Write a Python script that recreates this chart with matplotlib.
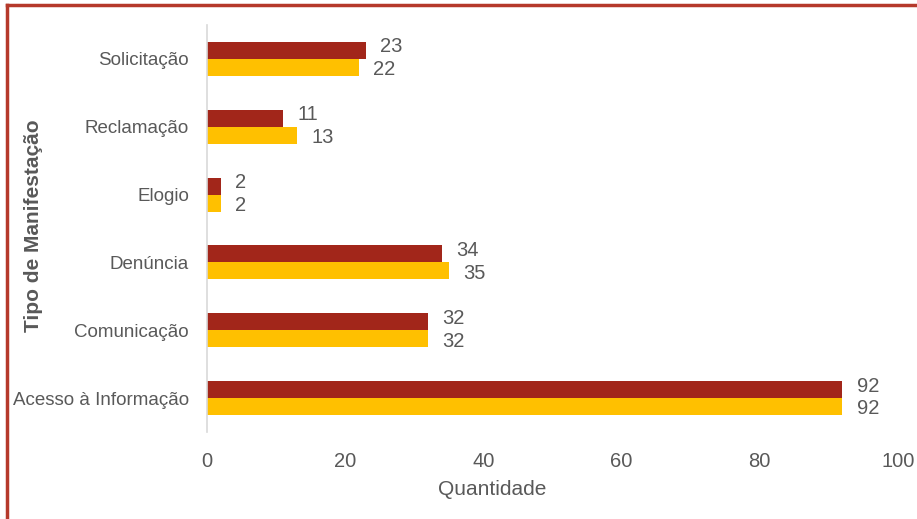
import matplotlib.pyplot as plt
from matplotlib.lines import Line2D
import numpy as np

# manifestation types, bottom to top
categorias = ["Acesso à Informação", "Comunicação", "Denúncia", "Elogio", "Reclamação", "Solicitação"]
serie_a = [92, 32, 34, 2, 11, 23]
serie_b = [92, 32, 35, 2, 13, 22]

cor_a = "#A2261A"
cor_b = "#FFC000"
cinza = "#595959"

plt.rcParams['font.family'] = ['Liberation Sans', 'DejaVu Sans']

fig = plt.figure(figsize=(9.17, 5.19), dpi=100)
ax = fig.add_axes([0.2257, 0.1676, 0.7533, 0.7844])

y = np.arange(len(categorias))
h = 0.25
ax.barh(y + h / 2, serie_a, height=h, color=cor_a)
ax.barh(y - h / 2, serie_b, height=h, color=cor_b)

for yi, va, vb in zip(y, serie_a, serie_b):
    ax.text(va + 2.1, yi + h / 2 + 0.05, str(va), va='center', ha='left', fontsize=14.5, color=cinza)
    ax.text(vb + 2.1, yi - h / 2 - 0.035, str(vb), va='center', ha='left', fontsize=14.5, color=cinza)

ax.set_xlim(0, 100)
ax.set_ylim(-0.5, 5.5)
ax.set_xticks(range(0, 101, 20))
ax.set_yticks(y)
ax.set_yticklabels(categorias)
ax.tick_params(axis='x', length=0, labelsize=14.5, colors=cinza, pad=14.5)
ax.tick_params(axis='y', length=0, labelsize=13.5, colors=cinza, pad=13)

for s in ['top', 'right', 'bottom']:
    ax.spines[s].set_visible(False)
ax.spines['left'].set_color('#D9D9D9')
ax.spines['left'].set_linewidth(1.2)

fig.text(0.537, 0.056, "Quantidade", ha='center', va='center', fontsize=15, color=cinza)
fig.text(0.036, 0.5655, "Tipo de Manifestação", rotation=90, ha='center', va='center',
         fontsize=15, color=cinza, fontweight='bold')

# frame lines (top and left)
fig.add_artist(Line2D([0.008, 1.0], [0.991, 0.991], transform=fig.transFigure, color="#B5392B", lw=2.5))
fig.add_artist(Line2D([0.008, 0.008], [0.0, 0.991], transform=fig.transFigure, color="#B5392B", lw=2.5))

fig.savefig("out.png", dpi=100)
